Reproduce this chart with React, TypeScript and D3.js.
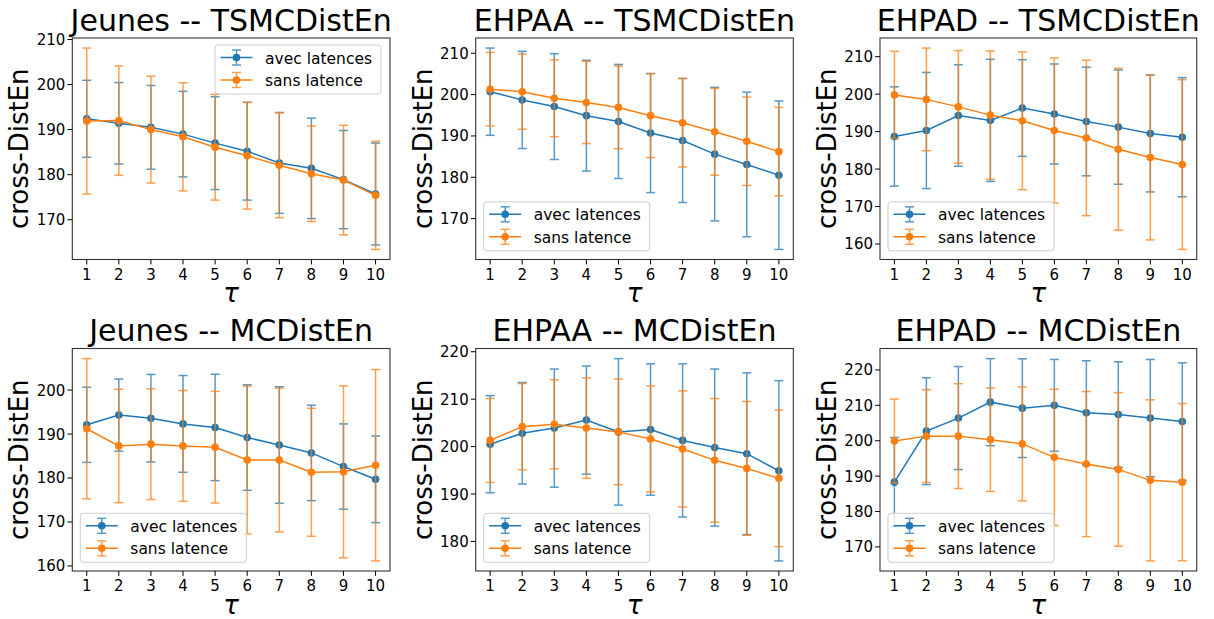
import React from 'react';
import * as d3 from 'd3';

// ---------- data ----------
const taus = [1, 2, 3, 4, 5, 6, 7, 8, 9, 10];
const seriesLabels = ['avec latences', 'sans latence'];
const yLabelText = 'cross-DistEn';
const xLabelText = 'τ';
const titles = [
  'Jeunes -- TSMCDistEn',
  'EHPAA -- TSMCDistEn',
  'EHPAD -- TSMCDistEn',
  'Jeunes -- MCDistEn',
  'EHPAA -- MCDistEn',
  'EHPAD -- MCDistEn',
];

// Jeunes -- TSMCDistEn
const jeunesTsmcAvec = [192.4, 191.4, 190.5, 189.0, 187.0, 185.2, 182.6, 181.4, 178.9, 175.7];
const jeunesTsmcAvecErr = [8.55, 9.05, 9.3, 9.5, 10.3, 10.85, 11.2, 11.15, 10.9, 11.3];
const jeunesTsmcSans = [191.9, 192.0, 190.0, 188.4, 186.1, 184.2, 182.1, 180.2, 178.8, 175.4];
const jeunesTsmcSansErr = [16.2, 12.15, 11.85, 12.0, 11.75, 11.85, 11.65, 10.6, 12.15, 12.0];

// EHPAA -- TSMCDistEn
const ehpaaTsmcAvec = [200.7, 198.7, 197.1, 194.9, 193.5, 190.7, 188.9, 185.6, 183.1, 180.5];
const ehpaaTsmcAvecErr = [10.55, 11.75, 12.8, 13.4, 13.8, 14.4, 15.0, 16.15, 17.5, 17.95];
const ehpaaTsmcSans = [201.3, 200.7, 199.1, 198.1, 196.9, 194.9, 193.2, 191.0, 188.7, 186.2];
const ehpaaTsmcSansErr = [8.9, 9.1, 9.3, 9.95, 10.0, 10.15, 10.7, 10.5, 10.7, 10.7];

// EHPAD -- TSMCDistEn
const ehpadTsmcAvec = [188.7, 190.3, 194.3, 193.0, 196.3, 194.7, 192.7, 191.2, 189.5, 188.5];
const ehpadTsmcAvecErr = [13.25, 15.5, 13.55, 16.3, 12.9, 13.35, 14.5, 15.25, 15.6, 15.9];
const ehpadTsmcSans = [199.8, 198.6, 196.6, 194.4, 192.9, 190.3, 188.3, 185.3, 183.1, 181.2];
const ehpadTsmcSansErr = [11.65, 13.7, 15.05, 17.15, 18.4, 19.35, 20.75, 21.6, 22.0, 22.65];

// Jeunes -- MCDistEn
const jeunesMcAvec = [192.1, 194.3, 193.6, 192.3, 191.5, 189.2, 187.5, 185.7, 182.6, 179.7];
const jeunesMcAvecErr = [8.55, 8.2, 9.95, 11.0, 12.1, 12.0, 13.25, 10.85, 9.7, 9.85];
const jeunesMcSans = [191.2, 187.3, 187.7, 187.3, 187.0, 184.1, 184.1, 181.3, 181.4, 182.9];
const jeunesMcSansErr = [15.95, 12.9, 12.6, 12.6, 12.7, 16.8, 16.35, 14.55, 19.55, 21.75];

// EHPAA -- MCDistEn
const ehpaaMcAvec = [200.5, 202.8, 203.9, 205.6, 203.1, 203.6, 201.3, 199.8, 198.5, 194.9];
const ehpaaMcAvecErr = [10.25, 10.7, 12.45, 11.4, 15.45, 13.85, 16.15, 16.55, 17.05, 19.0];
const ehpaaMcSans = [201.3, 204.2, 204.7, 203.9, 203.1, 201.6, 199.5, 197.1, 195.4, 193.3];
const ehpaaMcSansErr = [8.85, 9.1, 9.4, 10.6, 11.15, 11.2, 12.25, 13.05, 14.1, 14.4];

// EHPAD -- MCDistEn
const ehpadMcAvec = [188.3, 202.7, 206.4, 210.9, 209.2, 210.0, 207.9, 207.4, 206.4, 205.4];
const ehpadMcAvecErr = [12.6, 15.1, 14.55, 12.3, 13.95, 12.95, 14.7, 14.9, 16.55, 16.6];
const ehpadMcSans = [199.9, 201.3, 201.3, 200.3, 199.1, 195.3, 193.4, 191.9, 188.8, 188.3];
const ehpadMcSansErr = [11.85, 13.1, 14.8, 14.6, 16.1, 19.25, 20.5, 21.7, 22.75, 22.2];

const panelSeries = [
  [[jeunesTsmcAvec, jeunesTsmcAvecErr], [jeunesTsmcSans, jeunesTsmcSansErr]],
  [[ehpaaTsmcAvec, ehpaaTsmcAvecErr], [ehpaaTsmcSans, ehpaaTsmcSansErr]],
  [[ehpadTsmcAvec, ehpadTsmcAvecErr], [ehpadTsmcSans, ehpadTsmcSansErr]],
  [[jeunesMcAvec, jeunesMcAvecErr], [jeunesMcSans, jeunesMcSansErr]],
  [[ehpaaMcAvec, ehpaaMcAvecErr], [ehpaaMcSans, ehpaaMcSansErr]],
  [[ehpadMcAvec, ehpadMcAvecErr], [ehpadMcSans, ehpadMcSansErr]],
];

// ---------- layout / style ----------
const W = 1214;
const H = 619;
const COL_L = [72.3, 475.7, 880];
const COL_R = [390, 793.3, 1196.7];
const ROW_T = [38, 348.5];
const ROW_B = [259.5, 571];
const COLORS = ['#1f77b4', '#ff7f0e'];
const FONT = '"DejaVu Sans", sans-serif';
const CAP = 4.5;
const TICK = 4.9;

function Legend({ x, y }: { x: number; y: number }) {
  const w = 166;
  const h = 49;
  return (
    <g transform={`translate(${x},${y})`}>
      <rect x={0} y={0} width={w} height={h} rx={3} ry={3} fill="white" fillOpacity={0.8} stroke="#cccccc" strokeWidth={1} />
      {seriesLabels.map((lab, i) => {
        const cy = 12.5 + i * 22.5;
        const hx0 = 5.5;
        const hx1 = 37.5;
        const cx = (hx0 + hx1) / 2;
        return (
          <g key={lab}>
            <line x1={hx0} x2={hx1} y1={cy} y2={cy} stroke={COLORS[i]} strokeWidth={1.5} />
            <g opacity={0.75} stroke={COLORS[i]} strokeWidth={1.5}>
              <line x1={cx} x2={cx} y1={cy - 7.5} y2={cy + 7.5} />
              <line x1={cx - CAP} x2={cx + CAP} y1={cy - 7.5} y2={cy - 7.5} />
              <line x1={cx - CAP} x2={cx + CAP} y1={cy + 7.5} y2={cy + 7.5} />
            </g>
            <circle cx={cx} cy={cy} r={3.8} fill={COLORS[i]} />
            <text x={50} y={cy + 6} fontSize={15.5} fontFamily={FONT} fill="black">{lab}</text>
          </g>
        );
      })}
    </g>
  );
}

function Panel({ idx }: { idx: number }) {
  const col = idx % 3;
  const row = Math.floor(idx / 3);
  const left = COL_L[col];
  const right = COL_R[col];
  const top = ROW_T[row];
  const bottom = ROW_B[row];
  const series = panelSeries[idx];

  let lo = Infinity;
  let hi = -Infinity;
  series.forEach(([m, e]) => {
    m.forEach((v, i) => {
      lo = Math.min(lo, v - e[i]);
      hi = Math.max(hi, v + e[i]);
    });
  });
  const pad = (hi - lo) * 0.05;
  const x = d3.scaleLinear().domain([0.55, 10.45]).range([left, right]);
  const y = d3.scaleLinear().domain([lo - pad, hi + pad]).range([bottom, top]);
  const yTicks = y.ticks(5);
  const line = d3.line<number>().x((_, i) => x(taus[i])).y((d) => y(d));

  const cx = (left + right) / 2;
  const cy = (top + bottom) / 2;

  const legendX = idx === 0 ? right - 9 - 166 : left + 8;
  const legendY = idx === 0 ? top + 7 : bottom - 8.7 - 49;

  return (
    <g>
      <rect x={left} y={top} width={right - left} height={bottom - top} fill="white" />
      {series.map(([m, e], si) => (
        <g key={si}>
          <g opacity={0.75} stroke={COLORS[si]} strokeWidth={1.5}>
            {m.map((v, i) => {
              const px = x(taus[i]);
              const y0 = y(v - e[i]);
              const y1 = y(v + e[i]);
              return (
                <g key={i}>
                  <line x1={px} x2={px} y1={y0} y2={y1} />
                  <line x1={px - CAP} x2={px + CAP} y1={y0} y2={y0} />
                  <line x1={px - CAP} x2={px + CAP} y1={y1} y2={y1} />
                </g>
              );
            })}
          </g>
          <path d={line(m) || ''} fill="none" stroke={COLORS[si]} strokeWidth={1.5} />
          {m.map((v, i) => (
            <circle key={i} cx={x(taus[i])} cy={y(v)} r={3.8} fill={COLORS[si]} />
          ))}
        </g>
      ))}
      <Legend x={legendX} y={legendY} />
      <rect x={left} y={top} width={right - left} height={bottom - top} fill="none" stroke="#333" strokeWidth={1.1} />
      {/* x ticks */}
      {taus.map((t) => (
        <g key={t}>
          <line x1={x(t)} x2={x(t)} y1={bottom} y2={bottom + TICK} stroke="black" strokeWidth={1} />
          <text x={x(t)} y={bottom + 20} textAnchor="middle" fontSize={15} fontFamily={FONT} fill="black">{t}</text>
        </g>
      ))}
      {/* y ticks */}
      {yTicks.map((t) => (
        <g key={t}>
          <line x1={left - TICK} x2={left} y1={y(t)} y2={y(t)} stroke="black" strokeWidth={1} />
          <text x={left - 7} y={y(t) + 5.5} textAnchor="end" fontSize={15} fontFamily={FONT} fill="black">{t}</text>
        </g>
      ))}
      <text x={cx} y={top - 7.5} textAnchor="middle" fontSize={30} fontFamily={FONT} fill="black">{titles[idx]}</text>
      <text x={cx} y={bottom + 42.5} textAnchor="middle" fontSize={26} fontStyle="italic" fontFamily={FONT} fill="black">{xLabelText}</text>
      <text transform={`translate(${left - 44},${cy}) rotate(-90)`} textAnchor="middle" fontSize={26} fontFamily={FONT} fill="black">{yLabelText}</text>
    </g>
  );
}

export default function App() {
  return (
    <svg width={W} height={H} viewBox={`0 0 ${W} ${H}`} style={{ position: 'absolute', left: 0, top: 0, background: 'white' }}>
      <rect x={0} y={0} width={W} height={H} fill="white" />
      {titles.map((_, i) => (
        <Panel key={i} idx={i} />
      ))}
    </svg>
  );
}
